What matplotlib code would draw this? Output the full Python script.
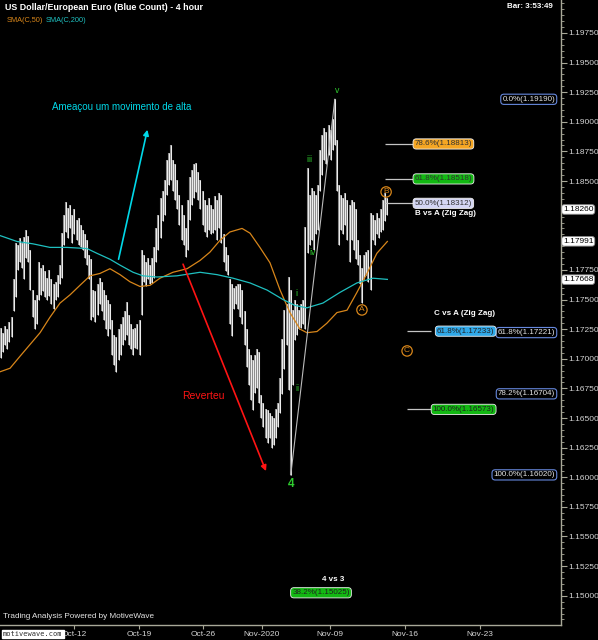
import numpy as np
import matplotlib
matplotlib.use('Agg')
import matplotlib.pyplot as plt
from matplotlib.ticker import FixedLocator, MultipleLocator, FuncFormatter
from matplotlib.transforms import blended_transform_factory

plt.rcParams['font.family'] = ['Liberation Sans', 'DejaVu Sans']

# barras de 4 horas (maximos / minimos)
highs = [
    1.1726, 1.1722, 1.1728, 1.1725, 1.1731, 1.1735, 1.1767, 1.1798, 1.1796, 1.1802,
    1.1798, 1.1803, 1.1809, 1.1804, 1.1792, 1.1758, 1.1750, 1.1754, 1.1782, 1.1777,
    1.1779, 1.1774, 1.1768, 1.1775, 1.1767, 1.1763, 1.1765, 1.1771, 1.1779, 1.1806,
    1.1821, 1.1832, 1.1827, 1.1830, 1.1821, 1.1826, 1.1817, 1.1819, 1.1813, 1.1809,
    1.1805, 1.1800, 1.1788, 1.1784, 1.1758, 1.1757, 1.1763, 1.1768, 1.1765, 1.1758,
    1.1754, 1.1750, 1.1746, 1.1733, 1.1720, 1.1718, 1.1725, 1.1729, 1.1735, 1.1740,
    1.1748, 1.1737, 1.1729, 1.1725, 1.1726, 1.1729, 1.1733, 1.1792, 1.1788, 1.1782,
    1.1785, 1.1779, 1.1785, 1.1794, 1.1810, 1.1821, 1.1836, 1.1842, 1.1851, 1.1868,
    1.1874, 1.1880, 1.1868, 1.1864, 1.1851, 1.1838, 1.1830, 1.1821, 1.1810, 1.1834,
    1.1853, 1.1859, 1.1864, 1.1865, 1.1858, 1.1851, 1.1842, 1.1834, 1.1830, 1.1836,
    1.1830, 1.1826, 1.1837, 1.1834, 1.1840, 1.1838, 1.1805, 1.1794, 1.1788, 1.1767,
    1.1763, 1.1760, 1.1761, 1.1763, 1.1763, 1.1758, 1.1740, 1.1725, 1.1708, 1.1703,
    1.1699, 1.1703, 1.1708, 1.1706, 1.1669, 1.1663, 1.1658, 1.1657, 1.1654, 1.1652,
    1.1650, 1.1658, 1.1663, 1.1684, 1.1717, 1.1741, 1.1746, 1.1769, 1.1758, 1.1741,
    1.1750, 1.1746, 1.1741, 1.1746, 1.1750, 1.1811, 1.1861, 1.1838, 1.1844, 1.1842,
    1.1838, 1.1847, 1.1876, 1.1889, 1.1895, 1.1891, 1.1897, 1.1893, 1.1902, 1.1919,
    1.1885, 1.1847, 1.1838, 1.1836, 1.1840, 1.1834, 1.1830, 1.1834, 1.1832, 1.1826,
    1.1800, 1.1788, 1.1777, 1.1788, 1.1790, 1.1792, 1.1823, 1.1821, 1.1817, 1.1823,
    1.1819, 1.1826, 1.1834, 1.1840, 1.1836,
]
lows = [
    1.1701, 1.1706, 1.1712, 1.1708, 1.1714, 1.1718, 1.1740, 1.1752, 1.1775, 1.1782,
    1.1777, 1.1767, 1.1785, 1.1782, 1.1758, 1.1735, 1.1725, 1.1729, 1.1750, 1.1754,
    1.1757, 1.1752, 1.1750, 1.1753, 1.1746, 1.1742, 1.1750, 1.1752, 1.1763, 1.1768,
    1.1796, 1.1807, 1.1802, 1.1810, 1.1798, 1.1805, 1.1800, 1.1796, 1.1794, 1.1792,
    1.1785, 1.1779, 1.1767, 1.1733, 1.1735, 1.1731, 1.1737, 1.1746, 1.1740, 1.1733,
    1.1725, 1.1719, 1.1725, 1.1703, 1.1695, 1.1689, 1.1699, 1.1703, 1.1712, 1.1716,
    1.1720, 1.1712, 1.1708, 1.1703, 1.1709, 1.1708, 1.1703, 1.1737, 1.1765, 1.1761,
    1.1767, 1.1763, 1.1764, 1.1768, 1.1782, 1.1792, 1.1802, 1.1816, 1.1821, 1.1838,
    1.1847, 1.1851, 1.1842, 1.1834, 1.1826, 1.1813, 1.1800, 1.1796, 1.1786, 1.1792,
    1.1817, 1.1830, 1.1836, 1.1841, 1.1834, 1.1826, 1.1813, 1.1807, 1.1803, 1.1809,
    1.1805, 1.1806, 1.1809, 1.1800, 1.1810, 1.1798, 1.1782, 1.1774, 1.1771, 1.1729,
    1.1719, 1.1742, 1.1746, 1.1742, 1.1735, 1.1729, 1.1712, 1.1693, 1.1678, 1.1665,
    1.1657, 1.1671, 1.1675, 1.1663, 1.1650, 1.1642, 1.1633, 1.1629, 1.1633, 1.1625,
    1.1627, 1.1633, 1.1642, 1.1654, 1.1670, 1.1691, 1.1712, 1.1674, 1.1602, 1.1678,
    1.1716, 1.1720, 1.1725, 1.1726, 1.1729, 1.1725, 1.1789, 1.1796, 1.1800, 1.1792,
    1.1805, 1.1809, 1.1842, 1.1855, 1.1868, 1.1864, 1.1872, 1.1868, 1.1876, 1.1880,
    1.1842, 1.1796, 1.1809, 1.1805, 1.1813, 1.1800, 1.1782, 1.1800, 1.1792, 1.1784,
    1.1779, 1.1763, 1.1747, 1.1767, 1.1771, 1.1765, 1.1758, 1.1800, 1.1796, 1.1805,
    1.1802, 1.1807, 1.1809, 1.1816, 1.1821,
]

# medias moviles
sma50_x = [-0.5, 4.3, 9.0, 13.8, 18.6, 23.3, 28.1, 32.9, 37.6, 42.4, 47.1, 51.9, 56.7,
           61.4, 66.2, 71.0, 75.7, 81.9, 88.6, 94.8, 99.5, 104.3, 109.0, 114.8, 118.6,
           123.3, 128.1, 132.9, 137.6, 142.4, 145.7, 150.5, 155.2, 160.0, 164.8, 169.5,
           174.3, 179.0, 184.0]
sma50_y = [1.1689, 1.1692, 1.1702, 1.1712, 1.1722, 1.1735, 1.1747, 1.1754, 1.1762, 1.1770,
           1.1772, 1.1776, 1.1771, 1.1765, 1.1761, 1.1762, 1.1768, 1.1773, 1.1776, 1.1783,
           1.1790, 1.1800, 1.1807, 1.1810, 1.1806, 1.1794, 1.1781, 1.1758, 1.1739, 1.1725,
           1.1722, 1.1723, 1.1730, 1.1739, 1.1741, 1.1756, 1.1772, 1.1789, 1.1799]
sma200_x = [-0.5, 7.6, 15.2, 23.3, 31.4, 41.0, 45.7, 51.9, 56.7, 62.9, 67.6, 74.3, 83.8,
            94.8, 102.9, 110.5, 118.6, 126.7, 134.3, 140.0, 145.7, 153.3, 161.4, 169.5,
            177.1, 184.0]
sma200_y = [1.1804, 1.1799, 1.1797, 1.1794, 1.1794, 1.1793, 1.1789, 1.1784, 1.1779, 1.1773,
            1.1770, 1.1769, 1.1770, 1.1773, 1.1771, 1.1768, 1.1764, 1.1758, 1.1750, 1.1745,
            1.1743, 1.1747, 1.1756, 1.1764, 1.1768, 1.1767]

date_pos = [35.0, 65.8, 96.3, 124.1, 156.8, 192.4, 227.9]
date_labels = ['Oct-12', 'Oct-19', 'Oct-26', 'Nov-2020', 'Nov-09', 'Nov-16', 'Nov-23']
price_ticks = [1.1500, 1.1525, 1.1550, 1.1575, 1.1600, 1.1625, 1.1650, 1.1675, 1.1700,
               1.1725, 1.1750, 1.1775, 1.1800, 1.1825, 1.1850, 1.1875, 1.1900, 1.1925,
               1.1950, 1.1975]

# fibonacci
bva_pct = ['78.6%', '61.8%', '50.0%']
bva_val = [1.18813, 1.18518, 1.18312]
bva_col = ['#f5a623', '#12b812', '#d4d6f4']
cva_pct = ['61.8%', '100.0%']
cva_val = [1.17233, 1.16573]
cva_col = ['#2fa8e8', '#12b812']
ret_pct = ['0.0%', '61.8%', '78.2%', '100.0%']
ret_val = [1.19190, 1.17221, 1.16704, 1.16020]
w43_pct, w43_val = '38.2%', 1.15025
last_vals = [1.18260, 1.17991, 1.17668]

# indices de los pivotes
i_low4, i_v, i_A, i_B = 138, 159, 172, 183

ORANGE = '#d8861a'
CYAN = '#1fc0c0'
GREEN = '#2ecc2e'
GRID = '#a8a898'
FS = 5.8

W, H = 598, 640
fig = plt.figure(figsize=(W / 100, H / 100), dpi=100, facecolor='black')
ax = fig.add_axes([0, 15 / H, 561 / W, 625 / H])
ax.set_facecolor('black')

idx = np.arange(len(highs))
ax.vlines(idx, lows, highs, color='#8e8e8e', lw=1.5, zorder=2)
ax.vlines(idx, lows, highs, color='#f0f0f0', lw=0.7, zorder=2)

ax.plot(sma50_x, sma50_y, color=ORANGE, lw=0.9, zorder=3)
ax.plot(sma200_x, sma200_y, color=CYAN, lw=0.9, zorder=3)

ax.set_xlim(-0.48, 266.7)
ax.set_ylim(1.14753, 1.20028)

for s in ['left', 'top']:
    ax.spines[s].set_visible(False)
for s in ['right', 'bottom']:
    ax.spines[s].set_color(GRID)
    ax.spines[s].set_linewidth(1.0)

# las etiquetas tapadas por los valores actuales no se escriben
hidden = [round(v, 4) for v in [1.1825, 1.1800]]
ax.yaxis.tick_right()
ax.yaxis.set_major_locator(FixedLocator(price_ticks))
ax.yaxis.set_minor_locator(MultipleLocator(0.0005))
ax.yaxis.set_major_formatter(FuncFormatter(
    lambda v, pos: '' if round(v, 4) in hidden else f'{v:.5f}'))
ax.tick_params(axis='y', which='major', length=4, color=GRID, labelcolor='#d4d4d4',
               labelsize=6, pad=1)
ax.tick_params(axis='y', which='minor', length=2, color=GRID)
ax.set_xticks(date_pos)
ax.set_xticklabels(date_labels)
ax.tick_params(axis='x', length=3, color=GRID, labelcolor='#d4d4d4', labelsize=6, pad=1)

# onda 4 -> v
ax.plot([i_low4, i_v], [lows[i_low4], highs[i_v]], color='#bcbcbc', lw=0.8, zorder=3)

# etiquetas de ondas
wave_txt = [('4', 138.1, 1.15943, 8.5, 'bold'), ('i', 140.5, 1.17555, 6.3, 'normal'),
            ('ii', 141.0, 1.16753, 6.3, 'normal'), ('iii', 146.7, 1.18678, 6.3, 'normal'),
            ('iv', 148.6, 1.17893, 6.3, 'normal'), ('v', 160.0, 1.19268, 6.3, 'normal')]
for t, x, y, fs, fw in wave_txt:
    ax.text(x, y, t, color=GREEN, fontsize=fs, fontweight=fw, ha='center', va='center')

for t, x, y in [('A', 171.9, 1.17412), ('B', 183.4, 1.18408), ('C', 193.4, 1.17066)]:
    ax.text(x, y, t, color=ORANGE, fontsize=6, ha='center', va='center',
            bbox=dict(boxstyle='circle,pad=0.2', fc='none', ec=ORANGE, lw=0.9))

# flechas y comentarios
ax.annotate('', xy=(70.0, 1.18956), xytext=(55.7, 1.17817),
            arrowprops=dict(arrowstyle='-|>', color='#00d8e8', lw=1.2, mutation_scale=8))
ax.text(57.6, 1.19125, 'Ameaçou um movimento de alta', color='#00d8e8', fontsize=7,
        ha='center', va='center')
ax.annotate('', xy=(126.7, 1.1603), xytext=(86.2, 1.1782),
            arrowprops=dict(arrowstyle='-|>', color='#ff1414', lw=1.2, mutation_scale=8))
ax.text(96.2, 1.16686, 'Reverteu', color='#ff1414', fontsize=7.5, ha='center', va='center')

# B vs A
ax.hlines(bva_val, i_B, 196.5, color='#c4c4c4', lw=0.9)
for p, v, c in zip(bva_pct, bva_val, bva_col):
    ax.text(197.0, v, f'{p}({v:.5f})', color='#303030', fontsize=FS, ha='left', va='center',
            bbox=dict(boxstyle='round,pad=0.2,rounding_size=0.4', fc=c, ec='#f0f0f0', lw=0.6))
ax.text(226.3, 1.18230, 'B vs A (Zig Zag)', color='white', fontsize=FS, fontweight='bold',
        ha='right', va='center')

# C vs A
ax.hlines(cva_val, 193.4, 205.0, color='#c4c4c4', lw=0.9)
for p, v, c in zip(cva_pct, cva_val, cva_col):
    ax.text(235.0, v, f'{p}({v:.5f})', color='#202020', fontsize=FS, ha='right', va='center',
            bbox=dict(boxstyle='round,pad=0.2,rounding_size=0.4', fc=c, ec='#f0f0f0', lw=0.6),
            zorder=5)
ax.text(235.2, 1.17378, 'C vs A (Zig Zag)', color='white', fontsize=FS, fontweight='bold',
        ha='right', va='center')

# retrocesos
for p, v in zip(ret_pct, ret_val):
    ax.text(263.9, v, f'{p}({v:.5f})', color='#e4e4e4', fontsize=FS, ha='right', va='center',
            bbox=dict(boxstyle='round,pad=0.2,rounding_size=0.4', fc='black', ec='#6688dd',
                      lw=0.8), zorder=4)

# 4 vs 3
ax.text(163.4, 1.15133, '4 vs 3', color='white', fontsize=FS, fontweight='bold',
        ha='right', va='center')
ax.text(152.4, w43_val, f'{w43_pct}({w43_val:.5f})', color='#202020', fontsize=FS,
        ha='center', va='center',
        bbox=dict(boxstyle='round,pad=0.2,rounding_size=0.4', fc='#12b812', ec='#f0f0f0', lw=0.6))

# valores actuales en el eje
tr = blended_transform_factory(ax.transAxes, ax.transData)
for v in last_vals:
    ax.text(1.0 + 2.0 / 561, v, f'{v:.5f}', transform=tr, color='black', fontsize=6,
            ha='left', va='center', clip_on=False, zorder=6,
            bbox=dict(boxstyle='round,pad=0.15,rounding_size=0.3', fc='white', ec='#909090',
                      lw=0.6))

# textos de la figura
fig.text(5 / W, 1 - 8 / H, 'US Dollar/European Euro (Blue Count) - 4 hour', color='white',
         fontsize=6.4, fontweight='bold', ha='left', va='center')
fig.text(7 / W, 1 - 20 / H, 'SMA(C,50)', color=ORANGE, fontsize=5.3, ha='left', va='center')
fig.text(46 / W, 1 - 20 / H, 'SMA(C,200)', color=CYAN, fontsize=5.3, ha='left', va='center')
fig.text(553 / W, 1 - 7 / H, 'Bar: 3:53:49', color='white', fontsize=5.8, fontweight='bold',
         ha='right', va='center')
fig.text(3 / W, 1 - 617 / H, 'Trading Analysis Powered by MotiveWave', color='#e4e4e4',
         fontsize=5.9, ha='left', va='center')
fig.text(3 / W, 1 - 634 / H, 'motivewave.com', color='#303030', fontsize=5, ha='left',
         va='center', family='DejaVu Sans Mono',
         bbox=dict(boxstyle='square,pad=0.15', fc='white', ec='white'))

fig.savefig('out.png', dpi=100, facecolor='black')
